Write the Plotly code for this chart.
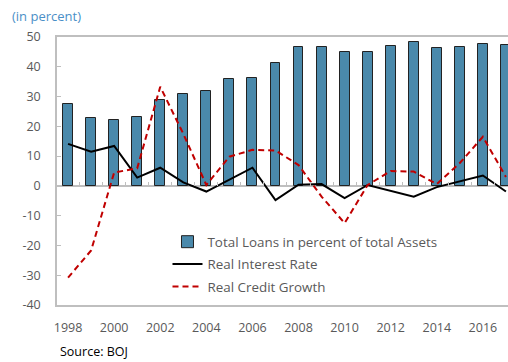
import plotly.graph_objects as go

years = list(range(1998, 2018))
total_loans = [27.4, 22.9, 22.1, 23.3, 28.9, 31.0, 31.9, 35.8, 36.1, 41.2,
               46.5, 46.5, 44.9, 45.1, 47.1, 48.4, 46.2, 46.5, 47.5, 47.3]
real_interest = [14.1, 11.5, 13.4, 2.8, 6.1, 1.2, -1.9, 2.2, 6.1, -4.8,
                 0.4, 0.6, -4.1, 0.3, -1.7, -3.6, -0.4, 1.5, 3.5, -1.9]
real_credit = [-30.8, -21.7, 4.5, 5.9, 33.3, 17.5, 0.3, 9.8, 12.1, 11.9,
               7.0, -3.6, -12.5, 0.3, 5.0, 4.8, 0.6, 7.7, 16.5, 3.0]
y_tick_vals = [-40, -30, -20, -10, 0, 10, 20, 30, 40, 50]
y_tick_labels = ["-40", "-30", "-20", "-10", "0", "10", "20", "30", "40", "50"]
x_tick_vals = list(range(1998, 2017, 2))
half_year_ticks = [y + 0.5 for y in range(1997, 2017)]

FONT = "Open Sans"
GRAY_TXT = "#595959"
AXIS = "#bfbfbf"

fig = go.Figure()
fig.add_trace(go.Bar(
    x=years, y=total_loans, name="Total Loans in percent of total Assets",
    width=0.43, marker=dict(color="#4a89ab", line=dict(color="#222222", width=1)),
    legendgroup="a"))
fig.add_trace(go.Scatter(
    x=years, y=real_interest, name="Real Interest Rate", mode="lines",
    line=dict(color="black", width=2), legendgroup="b"))
fig.add_trace(go.Scatter(
    x=years, y=real_credit, name="Real Credit Growth", mode="lines",
    line=dict(color="#c00000", width=2, dash="6px,4px"), legendgroup="c"))
# invisible trace for the category tick marks on the zero line
fig.add_trace(go.Scatter(x=[years[0]], y=[0], xaxis="x2", mode="markers",
                         marker=dict(opacity=0), showlegend=False, hoverinfo="skip"))

fig.update_layout(
    width=508, height=362,
    margin=dict(l=57, r=0, t=37, b=57),
    plot_bgcolor="white", paper_bgcolor="white",
    font=dict(family=FONT, size=12, color=GRAY_TXT),
    showlegend=True,
    legend=dict(x=0.245, y=0.293, xanchor="left", yanchor="top",
                bgcolor="rgba(0,0,0,0)", font=dict(size=13.4, color=GRAY_TXT),
                traceorder="grouped", tracegroupgap=2, itemwidth=30),
    xaxis=dict(range=[1997.52, 2017.09], tickvals=x_tick_vals, ticks="",
               showline=True, linecolor=AXIS, linewidth=1.5, mirror=True,
               showgrid=False, zeroline=False, ticklabelstandoff=10,
               tickfont=dict(size=12.5, color=GRAY_TXT)),
    xaxis2=dict(overlaying="x", matches="x", anchor="free", position=40/90,
                side="bottom", tickvals=half_year_ticks, showticklabels=False,
                ticks="inside", ticklen=4, tickcolor=AXIS, tickwidth=1,
                showline=False, showgrid=False, zeroline=False),
    yaxis=dict(range=[-40, 50], tickvals=y_tick_vals, ticktext=y_tick_labels,
               ticks="inside", ticklen=4, tickcolor=AXIS, showline=True,
               linecolor=AXIS, linewidth=1.5, showgrid=False,
               zeroline=True, zerolinecolor=AXIS, zerolinewidth=1.5,
               ticklabelstandoff=12, tickfont=dict(size=12.5, color=GRAY_TXT)),
    bargap=0,
)
fig.add_annotation(text="(in percent)", xref="paper", yref="paper", x=-0.1, y=1.0,
                   xanchor="left", yanchor="bottom", yshift=10, showarrow=False,
                   font=dict(family=FONT, size=13, color="#4a8fc7"),
                   xshift=-2)
fig.add_annotation(text="Source: BOJ", xref="paper", yref="paper", x=0, y=0,
                   xanchor="left", yanchor="top", xshift=1, yshift=-36, showarrow=False,
                   font=dict(family=FONT, size=12.5, color="black"))
fig.write_html("out.html")
